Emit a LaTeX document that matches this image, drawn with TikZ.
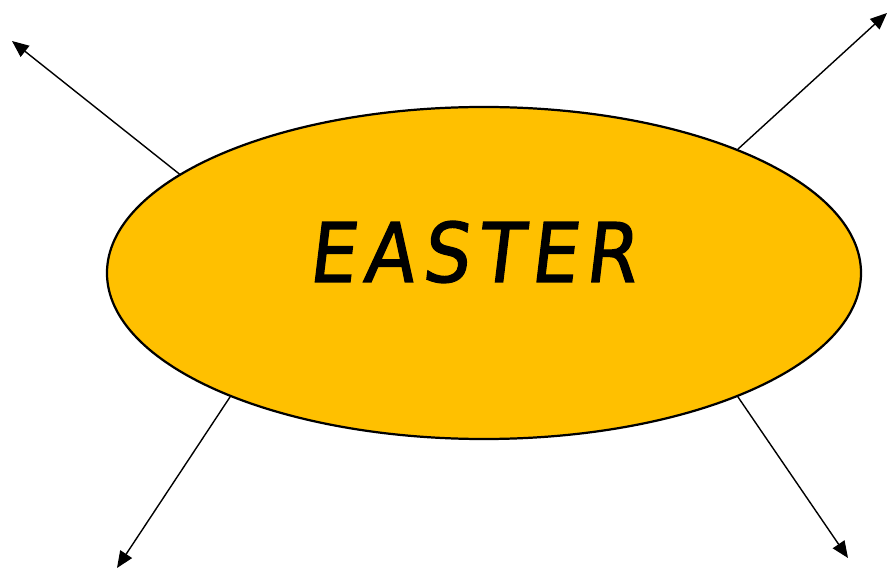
\documentclass[tikz,border=0pt]{standalone}
\usepackage{fontspec}
\newfontfamily\titlefont[LetterSpace=10,FakeBold=1.6,FakeSlant=0.12]{DejaVu Sans Condensed}
\usetikzlibrary{shapes.geometric, arrows.meta, positioning}
\definecolor{eggyellow}{RGB}{255,192,0}

\begin{document}
\begin{tikzpicture}[x=0.03cm,y=-0.03cm,
  topic/.style={ellipse,draw=black,line width=1.9pt,fill=eggyellow,inner sep=0pt, minimum width=22.62cm,minimum height=9.96cm},
  title/.style={inner sep=0pt,font=\titlefont\fontsize{70}{70}\selectfont},
  spoke/.style={-{Triangle[length=0.5cm,width=0.42cm]},line width=1.2pt}
]
  \useasboundingbox (0,0) rectangle (888,569);
  \node[topic](easter) at (484,273) {};
  \node[title](name)   at (472,252) {EASTER};

  \coordinate (nw) at (12,41);
  \coordinate (ne) at (887,13);
  \coordinate (sw) at (117,568);
  \coordinate (se) at (848,558);

  \draw[spoke](easter.162.5) -- (nw);
  \draw[spoke](easter.26) -- (ne);
  \draw[spoke](easter.206) -- (sw);
  \draw[spoke](easter.334.6) -- (se);
\end{tikzpicture}
\end{document}
